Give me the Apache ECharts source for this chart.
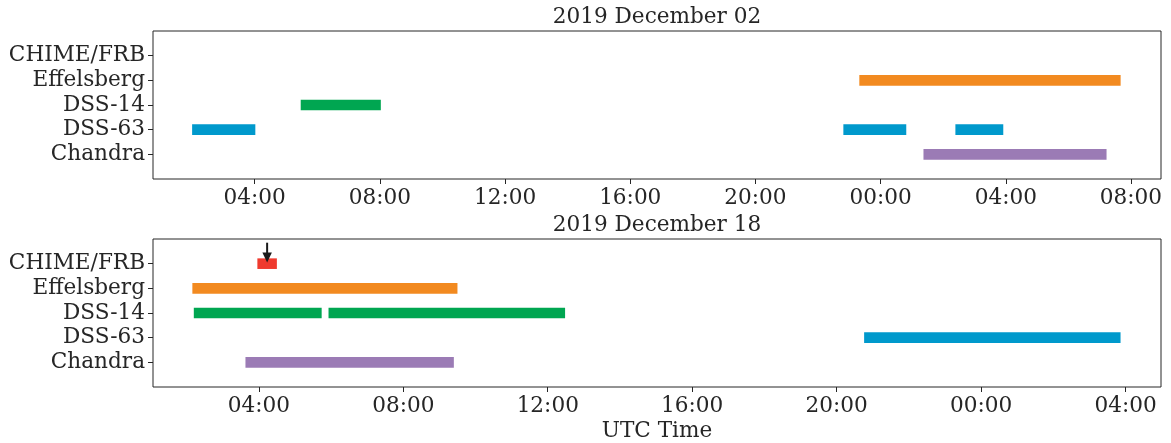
<!DOCTYPE html>
<html>
<head>
<meta charset="utf-8">
<script src="https://cdn.jsdelivr.net/npm/echarts@6/dist/echarts.min.js"></script>
<style>
  html, body { margin: 0; padding: 0; background: #fff; }
  #chart { width: 1171px; height: 443px; }
</style>
</head>
<body>
<div id="chart"></div>
<script>
// rows, top to bottom
const stations = ['CHIME/FRB', 'Effelsberg', 'DSS-14', 'DSS-63', 'Chandra'];
const stationColors = ['#ef3a2e', '#f28a20', '#00a651', '#0099cc', '#9b7bb5'];

// hours since 00:00 UTC of the panel date: [row, start, end]
const dec02Bars = [
  [3, 2.0, 4.02],
  [2, 5.47, 8.03],
  [1, 23.32, 31.67],
  [3, 22.81, 24.82],
  [3, 26.39, 27.92],
  [4, 25.37, 31.22]
];
const dec18Bars = [
  [0, 3.96, 4.5],
  [1, 2.16, 9.5],
  [2, 2.2, 5.74],
  [2, 5.93, 12.48],
  [3, 20.76, 27.86],
  [4, 3.63, 9.4]
];
// burst arrow: [hour, yFrom, yTo] in row units
const burstArrow = [[4.23, -0.85, -0.05]];

const dec02Ticks = [4, 8, 12, 16, 20, 24, 28, 32];
const dec18Ticks = [4, 8, 12, 16, 20, 24, 28];
const rowTicks = [0, 1, 2, 3, 4];

const font = 'DejaVu Serif';
const fs = 21.6;
const ink = '#262626';

function hourLabel(v) {
  let h = Math.round(v) % 24;
  return (h < 10 ? '0' : '') + h + ':00';
}

function renderBar(params, api) {
  const row = api.value(0);
  const p0 = api.coord([api.value(1), row]);
  const p1 = api.coord([api.value(2), row]);
  const h = api.size([0, 1])[1] * 0.43;
  return {
    type: 'rect',
    shape: { x: p0[0], y: p0[1] - h / 2, width: p1[0] - p0[0], height: h },
    style: { fill: stationColors[row] }
  };
}

function renderArrow(params, api) {
  const a = api.coord([api.value(0), api.value(1)]);
  const b = api.coord([api.value(0), api.value(2)]);
  const headH = 10, headW = 9.5;
  return {
    type: 'group',
    children: [
      {
        type: 'line',
        shape: { x1: a[0], y1: a[1], x2: b[0], y2: b[1] - headH + 1 },
        style: { stroke: '#1a1a1a', lineWidth: 2 }
      },
      {
        type: 'polygon',
        shape: { points: [[b[0] - headW / 2, b[1] - headH], [b[0] + headW / 2, b[1] - headH], [b[0], b[1]]] },
        style: { fill: '#1a1a1a' }
      }
    ]
  };
}

function xAxisFor(idx, min, max, ticks, name) {
  return {
    type: 'value',
    gridIndex: idx,
    min: min,
    max: max,
    position: 'bottom',
    name: name,
    nameLocation: 'middle',
    nameGap: 33,
    nameTextStyle: { fontFamily: font, fontSize: fs, color: ink },
    axisLine: { show: false, onZero: false },
    axisTick: { show: true, customValues: ticks, length: 5, lineStyle: { color: ink, width: 1 } },
    axisLabel: {
      customValues: ticks,
      formatter: hourLabel,
      margin: 8,
      fontFamily: font,
      fontSize: fs,
      color: ink
    },
    splitLine: { show: false }
  };
}

function yAxisFor(idx) {
  return {
    type: 'value',
    gridIndex: idx,
    min: -1,
    max: 5,
    inverse: true,
    position: 'left',
    axisLine: { show: false, onZero: false },
    axisTick: { show: true, customValues: rowTicks, length: 5, lineStyle: { color: ink, width: 1 } },
    axisLabel: {
      customValues: rowTicks,
      formatter: function (v) { return stations[v]; },
      margin: 8,
      fontFamily: font,
      fontSize: fs,
      color: ink
    },
    splitLine: { show: false }
  };
}

const option = {
  animation: false,
  backgroundColor: '#fff',
  title: [
    {
      text: '2019 December 02',
      left: 657, top: 6, textAlign: 'center', padding: 0,
      textStyle: { fontFamily: font, fontSize: fs, fontWeight: 'normal', color: ink }
    },
    {
      text: '2019 December 18',
      left: 657, top: 214, textAlign: 'center', padding: 0,
      textStyle: { fontFamily: font, fontSize: fs, fontWeight: 'normal', color: ink }
    }
  ],
  grid: [
    { left: 153, right: 10, top: 31, height: 148, show: true, borderColor: ink, borderWidth: 1, backgroundColor: 'transparent' },
    { left: 153, right: 10, top: 239, height: 148, show: true, borderColor: ink, borderWidth: 1, backgroundColor: 'transparent' }
  ],
  xAxis: [
    xAxisFor(0, 0.75, 32.96, dec02Ticks, ''),
    xAxisFor(1, 1.07, 28.98, dec18Ticks, 'UTC Time')
  ],
  yAxis: [yAxisFor(0), yAxisFor(1)],
  series: [
    {
      type: 'custom', xAxisIndex: 0, yAxisIndex: 0,
      renderItem: renderBar,
      encode: { x: [1, 2], y: 0 },
      data: dec02Bars
    },
    {
      type: 'custom', xAxisIndex: 1, yAxisIndex: 1,
      renderItem: renderBar,
      encode: { x: [1, 2], y: 0 },
      data: dec18Bars
    },
    {
      type: 'custom', xAxisIndex: 1, yAxisIndex: 1,
      renderItem: renderArrow,
      encode: { x: 0, y: [1, 2] },
      data: burstArrow,
      z: 5
    }
  ]
};

const chart = echarts.init(document.getElementById('chart'));
chart.setOption(option);
window.addEventListener('resize', () => {
  chart.resize();
});
</script>
</body>
</html>
